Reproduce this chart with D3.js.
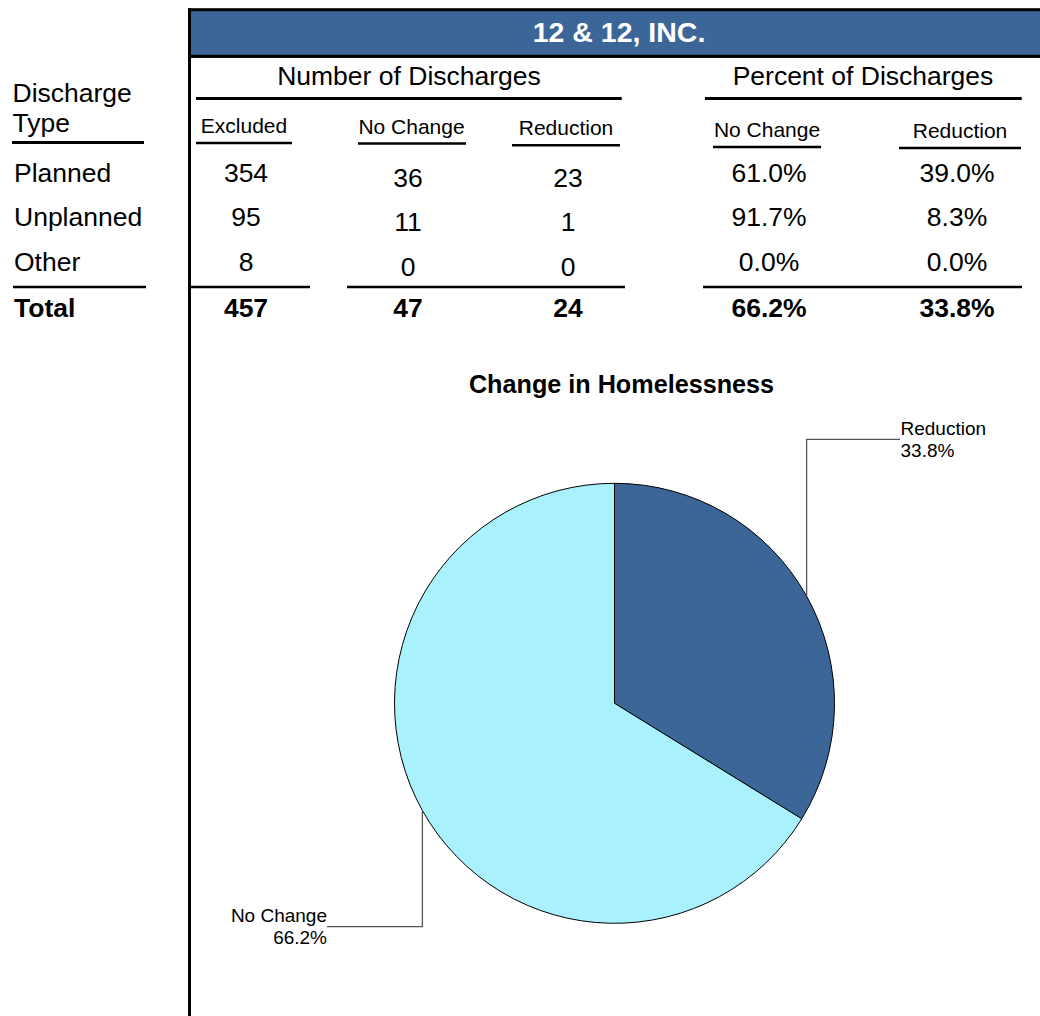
<!DOCTYPE html>
<html>
<head>
<meta charset="utf-8">
<script src="https://cdn.jsdelivr.net/npm/d3@7"></script>
<style>
  html, body { margin: 0; padding: 0; background: #fff; }
  svg text { font-family: "Liberation Sans", Arial, sans-serif; fill: #000; }
</style>
</head>
<body>
<div id="chart"></div>
<script>
var title = "12 & 12, INC.";
var dischargeTypes = ["Planned", "Unplanned", "Other"];
var excluded = [354, 95, 8];
var noChange = [36, 11, 0];
var reduction = [23, 1, 0];
var pctNoChange = [61.0, 91.7, 0.0];
var pctReduction = [39.0, 8.3, 0.0];
var totalCounts = [457, 47, 24];
var totalPcts = [66.2, 33.8];
var groupHeaders = ["Number of Discharges", "Percent of Discharges"];
var colHeaders = ["Excluded", "No Change", "Reduction", "No Change", "Reduction"];
var pieTitle = "Change in Homelessness";
var pieLabels = ["Reduction", "No Change"];
var pieValues = [33.8, 66.2];

var width = 1040, height = 1016;
var font = 26.5;
var blue = "#3b6697", cyan = "#aaf1fe";

var svg = d3.select("#chart").append("svg")
  .attr("width", width)
  .attr("height", height);

//header bar
svg.append("rect")
  .attr("x", 189.5).attr("y", 9.7)
  .attr("width", 900).attr("height", 46.6)
  .attr("fill", blue)
  .attr("stroke", "#000").attr("stroke-width", 3);
svg.append("line")
  .attr("x1", 189.5).attr("x2", 1040)
  .attr("y1", 56.3).attr("y2", 56.3)
  .attr("stroke", "#000").attr("stroke-width", 2.7);
svg.append("line")
  .attr("x1", 189.5).attr("x2", 189.5)
  .attr("y1", 8.2).attr("y2", height)
  .attr("stroke", "#000").attr("stroke-width", 3);
svg.append("text")
  .attr("x", 619).attr("y", 41.7)
  .attr("text-anchor", "middle")
  .attr("font-size", 28.5).attr("font-weight", "bold")
  .style("fill", "#fff")
  .text(title);

// group headers
var groupX = d3.scaleOrdinal().domain(groupHeaders).range([409, 863]);
var groupLine = d3.scaleOrdinal().domain(groupHeaders).range([[196, 621.7], [705, 1021.7]]);
groupHeaders.forEach(function(g) {
  svg.append("text")
    .attr("x", groupX(g)).attr("y", 85)
    .attr("text-anchor", "middle")
    .attr("font-size", font)
    .text(g);
  svg.append("line")
    .attr("x1", groupLine(g)[0]).attr("x2", groupLine(g)[1])
    .attr("y1", 98.5).attr("y2", 98.5)
    .attr("stroke", "#000").attr("stroke-width", 3);
});

// left header
svg.append("text").attr("x", 12.5).attr("y", 101.7).attr("font-size", font).text("Discharge");
svg.append("text").attr("x", 12.5).attr("y", 131.7).attr("font-size", font).text("Type");
svg.append("line")
  .attr("x1", 12).attr("x2", 144).attr("y1", 142.5).attr("y2", 142.5)
  .attr("stroke", "#000").attr("stroke-width", 3);

// column headers (each one has its own small offset in the report)
var colIdx = d3.range(colHeaders.length);
var colX = d3.scaleOrdinal().domain(colIdx).range([246, 408, 568, 769, 957]);
var headX = d3.scaleOrdinal().domain(colIdx).range([244, 411.5, 566, 767, 960]);
var headY = d3.scaleOrdinal().domain(colIdx).range([133, 134.3, 135, 136.7, 138.3]);
var headLine = d3.scaleOrdinal().domain(colIdx)
  .range([[196, 292, 143], [358, 466, 143.5], [512, 620, 145.3], [713, 821, 147], [899, 1021, 148]]);

colIdx.forEach(function(i) {
  svg.append("text")
    .attr("x", headX(i)).attr("y", headY(i))
    .attr("text-anchor", "middle")
    .attr("font-size", 21)
    .text(colHeaders[i]);
  var l = headLine(i);
  svg.append("line")
    .attr("x1", l[0]).attr("x2", l[1]).attr("y1", l[2]).attr("y2", l[2])
    .attr("stroke", "#000").attr("stroke-width", 2.6);
});

// rows
var rowY = d3.scaleOrdinal().domain(dischargeTypes).range([181.7, 226.3, 270.7]);
var shiftY = d3.scaleOrdinal().domain(colIdx).range([0, 5, 5, 0, 0]);
var fmtPct = function(v) { return v.toFixed(1) + "%"; };
var colValues = [excluded, noChange, reduction, pctNoChange.map(fmtPct), pctReduction.map(fmtPct)];

svg.selectAll(".rowlabel")
    .data(dischargeTypes)
  .enter().append("text")
    .attr("class", "rowlabel")
    .attr("x", 14)
    .attr("y", function(d) { return rowY(d); })
    .attr("font-size", font)
    .text(function(d) { return d; });

colIdx.forEach(function(i) {
  svg.selectAll(".cell" + i)
      .data(colValues[i])
    .enter().append("text")
      .attr("class", "cell" + i)
      .attr("x", colX(i))
      .attr("y", function(d, j) { return rowY(dischargeTypes[j]) + shiftY(i); })
      .attr("text-anchor", "middle")
      .attr("font-size", font)
      .text(function(d) { return d; });
});

// total row
var totalLines = [[13, 146], [190, 310], [347, 625], [703, 1022]];
totalLines.forEach(function(l) {
  svg.append("line")
    .attr("x1", l[0]).attr("x2", l[1]).attr("y1", 287).attr("y2", 287)
    .attr("stroke", "#000").attr("stroke-width", 2.6);
});
var totals = totalCounts.concat(totalPcts.map(fmtPct));
svg.append("text")
  .attr("x", 14).attr("y", 316.7)
  .attr("font-size", font).attr("font-weight", "bold")
  .text("Total");
svg.selectAll(".total")
    .data(totals)
  .enter().append("text")
    .attr("class", "total")
    .attr("x", function(d, i) { return colX(i); })
    .attr("y", 316.7)
    .attr("text-anchor", "middle")
    .attr("font-size", font).attr("font-weight", "bold")
    .text(function(d) { return d; });

// pie
svg.append("text")
  .attr("x", 621.5).attr("y", 392.5)
  .attr("text-anchor", "middle")
  .attr("font-size", 25.2).attr("font-weight", "bold")
  .text(pieTitle);

var cx = 614.5, cy = 703.3, radius = 220;
var pie = d3.pie().sort(null).value(function(d) { return d; });
var arc = d3.arc().innerRadius(0).outerRadius(radius);
var color = d3.scaleOrdinal().domain(pieLabels).range([blue, cyan]);
var arcs = pie(pieValues);

var pg = svg.append("g").attr("transform", "translate(" + cx + "," + cy + ")");
pg.selectAll("path")
    .data(arcs)
  .enter().append("path")
    .attr("d", arc)
    .attr("fill", function(d, i) { return color(pieLabels[i]); })
    .attr("stroke", "#000")
    .attr("stroke-width", 1);

// leader lines: go straight up/down from the slice middle, then sideways to the label
var elbowY = [439.3, 926.7], labelX = [900, 327];
arcs.forEach(function(d, i) {
  var a = (d.startAngle + d.endAngle) / 2;
  var px = cx + radius * Math.sin(a), py = cy - radius * Math.cos(a);
  svg.append("path")
    .attr("d", "M" + px + "," + py + "V" + elbowY[i] + "H" + labelX[i])
    .attr("fill", "none")
    .attr("stroke", "#555")
    .attr("stroke-width", 1.3);
  var left = labelX[i] < cx;
  var t = svg.append("text")
    .attr("x", labelX[i] + (left ? 0 : 0.5))
    .attr("y", elbowY[i] + (left ? -5 : -4.3))
    .attr("text-anchor", left ? "end" : "start")
    .attr("font-size", 19);
  t.append("tspan").text(pieLabels[i]);
  t.append("tspan")
    .attr("x", labelX[i] + (left ? 0 : 0.5))
    .attr("dy", 22.3)
    .text(fmtPct(pieValues[i]));
});
</script>
</body>
</html>
